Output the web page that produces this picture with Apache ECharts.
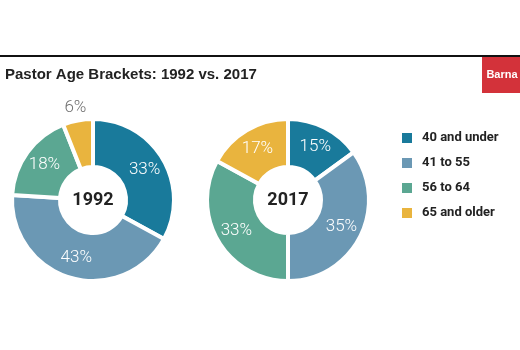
<!DOCTYPE html>
<html>
<head>
<meta charset="utf-8">
<script src="https://cdn.jsdelivr.net/npm/echarts@6/dist/echarts.min.js"></script>
<style>html,body{margin:0;padding:0;background:#fff}#c{width:520px;height:350px}</style>
</head>
<body>
<div id="c"></div>
<script>
const categories = ['40 and under', '41 to 55', '56 to 64', '65 and older'];
const values1992 = [33, 43, 18, 6];
const values2017 = [15, 35, 33, 17];
const years = ['1992', '2017'];
const titleText = 'Pastor Age Brackets: 1992 vs. 2017';
const colors = ['#197a9b', '#6b98b4', '#5ba792', '#e9b43e'];

const chart = echarts.init(document.getElementById('c'), null, {renderer: 'canvas'});

const centers = [[93, 200], [288, 200]];
const R = [33, 81];
const pctFont = {fontFamily: 'Roboto, "Liberation Sans", sans-serif', fontWeight: 300, fontSize: 17};
const condFont = 'Roboto, "Liberation Sans", sans-serif';

function mainSeries(vals, center, outsideIdx) {
  return {
    type: 'pie',
    center: center,
    radius: R,
    startAngle: 90,
    clockwise: true,
    silent: true,
    itemStyle: {borderColor: '#fff', borderWidth: 4},
    label: Object.assign({show: true, position: 'inside', color: '#fff', formatter: '{c}%'}, pctFont),
    labelLine: {show: false},
    data: categories.map((n, i) => ({
      name: n, value: vals[i],
      label: i === outsideIdx ? {show: false} : undefined
    }))
  };
}
function outerLabelSeries(vals, center, outsideIdx) {
  return {
    type: 'pie',
    center: center,
    radius: [81, 101],
    startAngle: 90,
    clockwise: true,
    silent: true,
    itemStyle: {color: 'rgba(0,0,0,0)', borderWidth: 0},
    label: Object.assign({show: false, position: 'inside', color: '#6e6e6e', formatter: '{c}%'}, pctFont),
    labelLine: {show: false},
    legendHoverLink: false,
    data: categories.map((n, i) => ({
      name: n, value: vals[i],
      label: {show: i === outsideIdx}
    }))
  };
}

const option = {
  animation: false,
  color: colors,
  legend: {
    orient: 'vertical',
    left: 395,
    top: 126,
    itemWidth: 12,
    itemHeight: 12,
    itemGap: 11,
    icon: 'rect',
    selectedMode: false,
    data: categories,
    textStyle: {fontFamily: condFont, fontWeight: 'bold', fontSize: 13, color: '#222', lineHeight: 14, padding: [0, 0, 0, 4]}
  },
  graphic: [
    {type: 'rect', shape: {x: 0, y: 55, width: 520, height: 2}, style: {fill: '#111'}},
    {type: 'text', left: 5, top: 67, style: {text: titleText, fontFamily: '"Liberation Sans", Arial, sans-serif', fontWeight: 'bold', fontSize: 15, fill: '#222'}},
    {type: 'rect', shape: {x: 482, y: 57, width: 38, height: 36}, style: {fill: '#d3323a'}},
    {type: 'text', x: 502, y: 75, style: {text: 'Barna', align: 'center', verticalAlign: 'middle', fontFamily: '"Liberation Sans", Arial, sans-serif', fontWeight: 'bold', fontSize: 11, fill: '#fff'}},
    {type: 'text', x: centers[0][0], y: centers[0][1], style: {text: years[0], align: 'center', verticalAlign: 'middle', fontFamily: condFont, fontWeight: 'bold', fontSize: 18, fill: '#222'}},
    {type: 'text', x: centers[1][0], y: centers[1][1], style: {text: years[1], align: 'center', verticalAlign: 'middle', fontFamily: condFont, fontWeight: 'bold', fontSize: 18, fill: '#222'}}
  ],
  series: [
    mainSeries(values1992, centers[0], 3),
    mainSeries(values2017, centers[1], -1),
    outerLabelSeries(values1992, centers[0], 3)
  ]
};
chart.setOption(option);
</script>
</body>
</html>
